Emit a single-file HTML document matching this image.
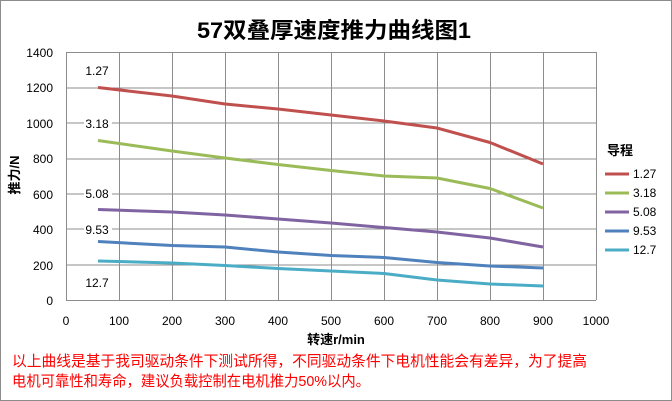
<!DOCTYPE html>
<html><head><meta charset="utf-8"><style>
html,body{margin:0;padding:0;background:#fff}
svg{display:block}
text{font-family:"Liberation Sans","Noto Sans CJK SC",sans-serif}
</style></head><body>
<svg width="672" height="401" viewBox="0 0 672 401">
<rect x="0.5" y="0.5" width="671" height="400" fill="#fff" stroke="#8c8c8c"/>
<text x="197" y="38" textLength="274" lengthAdjust="spacingAndGlyphs" font-size="22" font-weight="bold" fill="#000">57双叠厚速度推力曲线图1</text>
<g stroke="#8c8c8c" stroke-width="1">
<line x1="66" y1="52.5" x2="596" y2="52.5"/><line x1="66" y1="88" x2="596" y2="88"/><line x1="66" y1="123" x2="596" y2="123"/><line x1="66" y1="159" x2="596" y2="159"/><line x1="66" y1="194" x2="596" y2="194"/><line x1="66" y1="229" x2="596" y2="229"/><line x1="66" y1="265" x2="596" y2="265"/><line x1="66" y1="300.5" x2="596" y2="300.5"/>
<line x1="66.5" y1="52" x2="66.5" y2="300"/><line x1="119.5" y1="52" x2="119.5" y2="300"/><line x1="172.5" y1="52" x2="172.5" y2="300"/><line x1="225.5" y1="52" x2="225.5" y2="300"/><line x1="278.5" y1="52" x2="278.5" y2="300"/><line x1="331.5" y1="52" x2="331.5" y2="300"/><line x1="384.5" y1="52" x2="384.5" y2="300"/><line x1="437.5" y1="52" x2="437.5" y2="300"/><line x1="490.5" y1="52" x2="490.5" y2="300"/><line x1="543.5" y1="52" x2="543.5" y2="300"/><line x1="596.5" y1="52" x2="596.5" y2="300"/>
</g>
<g font-size="12" fill="#000" text-anchor="end">
<text x="53" y="57">1400</text><text x="53" y="92">1200</text><text x="53" y="128">1000</text><text x="53" y="163">800</text><text x="53" y="199">600</text><text x="53" y="234">400</text><text x="53" y="270">200</text><text x="53" y="305">0</text>
</g>
<g font-size="12" fill="#000" text-anchor="middle">
<text x="66" y="325">0</text><text x="119" y="325">100</text><text x="172" y="325">200</text><text x="225" y="325">300</text><text x="278" y="325">400</text><text x="331" y="325">500</text><text x="384" y="325">600</text><text x="437" y="325">700</text><text x="490" y="325">800</text><text x="543" y="325">900</text><text x="596" y="325">1000</text>
</g>
<g fill="none" stroke-width="3" stroke-linejoin="round">
<polyline stroke="#c0504d" points="98,87.5 172,96 225,104 278,109 331,115 384,121 437,128 490,142.5 543,164"/>
<polyline stroke="#9bbb59" points="98,140.5 172,151 225,158 278,164.5 331,170.5 384,176 437,178 490,188.5 543,208"/>
<polyline stroke="#8064a2" points="98,209.5 172,212 225,215 278,219 331,223 384,227.5 437,232 490,238 543,247"/>
<polyline stroke="#4f81bd" points="98,241.5 172,245.5 225,247 278,252 331,255.5 384,257.5 437,262.5 490,266 543,268"/>
<polyline stroke="#4bacc6" points="98,261 172,263 225,265.5 278,268.5 331,271 384,273.5 437,280 490,284 543,286"/>
</g>
<g font-size="12" fill="#000" text-anchor="middle">
<rect x="84" y="63" width="28" height="14" fill="#fff"/><text x="97" y="75">1.27</text>
<rect x="84" y="116" width="28" height="14" fill="#fff"/><text x="97" y="128">3.18</text>
<rect x="84" y="186" width="28" height="14" fill="#fff"/><text x="97" y="198">5.08</text>
<rect x="84" y="222" width="28" height="14" fill="#fff"/><text x="97" y="234">9.53</text>
<text x="97" y="287">12.7</text>
</g>
<text x="620" y="155" font-size="13" font-weight="bold" text-anchor="middle">导程</text>
<g stroke-width="3">
<line x1="605" y1="174" x2="629" y2="174" stroke="#c0504d"/>
<line x1="605" y1="193" x2="629" y2="193" stroke="#9bbb59"/>
<line x1="605" y1="212" x2="629" y2="212" stroke="#8064a2"/>
<line x1="605" y1="231" x2="629" y2="231" stroke="#4f81bd"/>
<line x1="605" y1="250" x2="629" y2="250" stroke="#4bacc6"/>
</g>
<g font-size="12" fill="#000">
<text x="633" y="178">1.27</text><text x="633" y="197">3.18</text><text x="633" y="216">5.08</text><text x="633" y="235">9.53</text><text x="633" y="254">12.7</text>
</g>
<text transform="translate(19,175) rotate(-90)" font-size="13" font-weight="bold" text-anchor="middle">推力/N</text>
<text x="336" y="344" font-size="13" font-weight="bold" text-anchor="middle">转速r/min</text>
<g font-size="15" fill="#ff0000">
<text x="12" y="366" textLength="575" lengthAdjust="spacingAndGlyphs">以上曲线是基于我司驱动条件下测试所得，不同驱动条件下电机性能会有差异，为了提高</text>
<text x="12" y="386" textLength="358" lengthAdjust="spacingAndGlyphs">电机可靠性和寿命，建议负载控制在电机推力50%以内。</text>
</g>
</svg>
</body></html>
